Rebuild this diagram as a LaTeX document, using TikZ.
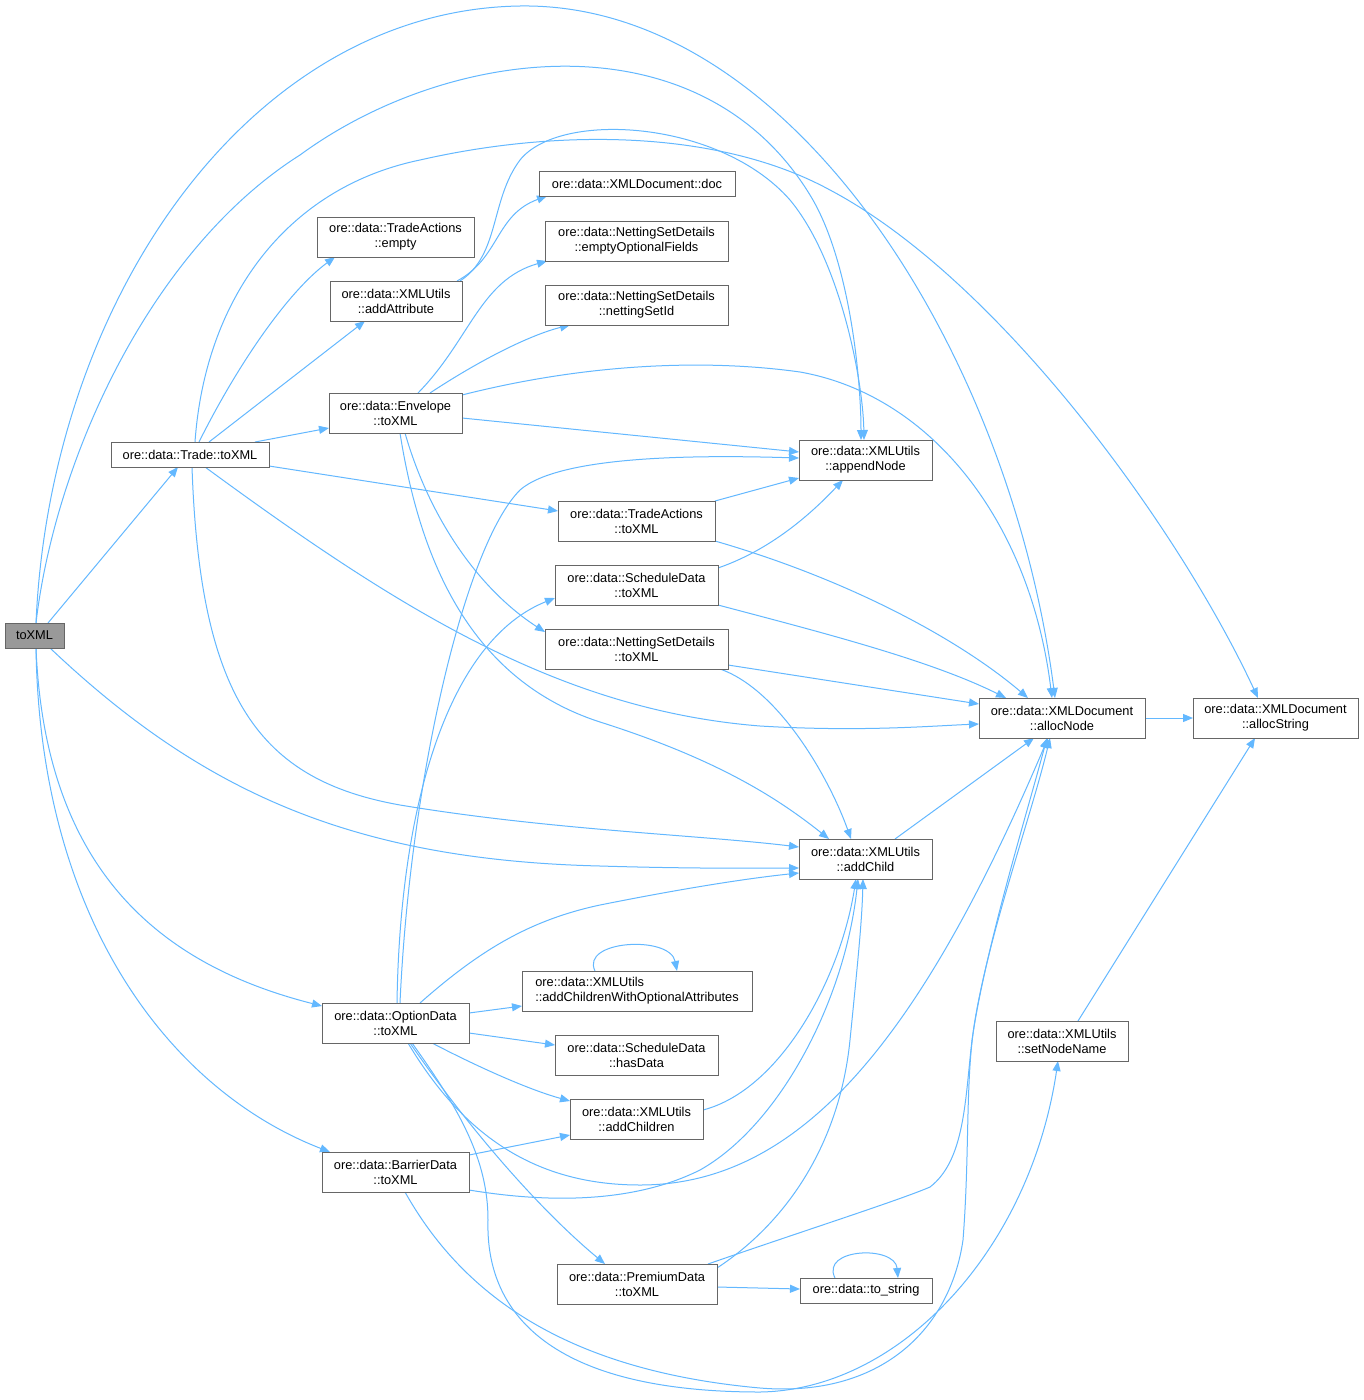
\documentclass[tikz,border=0pt]{standalone}
\usepackage{fontspec}
\setmainfont{Liberation Sans}
\usetikzlibrary{arrows.meta,backgrounds}
\definecolor{edgeblue}{HTML}{63B8FF}
\definecolor{nodeborder}{HTML}{666666}
\definecolor{mainfill}{HTML}{999999}
\tikzset{
  box/.style={draw=nodeborder, fill=white, line width=1pt, inner sep=0pt, outer sep=0pt,
    align=center, font=\fontsize{12.8}{15}\selectfont, text=black},
  mainbox/.style={box, fill=mainfill},
  edge/.style={draw=edgeblue, line width=1pt, -{Triangle[length=10pt,width=8pt]}}
}
\begin{document}
\begin{tikzpicture}[x=1pt,y=-1pt]
\useasboundingbox (0,0) rectangle (1364,1400);
% nodes
\node[mainbox, minimum width=59pt, minimum height=25pt] (main) at (34.5,635.5) {toXML};
\node[box, minimum width=158pt, minimum height=25pt] (trade) at (190,454.5) {ore::data::Trade::toXML};
\node[box, minimum width=157pt, minimum height=40pt] (taempty) at (395.5,237) {ore::data::TradeActions\\::empty};
\node[box, minimum width=132pt, minimum height=40pt] (addattr) at (396,301) {ore::data::XMLUtils\\::addAttribute};
\node[box, minimum width=133pt, minimum height=40pt] (envelope) at (395.5,413) {ore::data::Envelope\\::toXML};
\node[box, minimum width=196pt, minimum height=25pt] (doc) at (637,183.5) {ore::data::XMLDocument::doc};
\node[box, minimum width=183pt, minimum height=40pt] (emptyopt) at (636.5,241) {ore::data::NettingSetDetails\\::emptyOptionalFields};
\node[box, minimum width=183pt, minimum height=40pt] (nsid) at (636.5,305) {ore::data::NettingSetDetails\\::nettingSetId};
\node[box, minimum width=133pt, minimum height=40pt] (appendnode) at (865.5,460) {ore::data::XMLUtils\\::appendNode};
\node[box, minimum width=157pt, minimum height=40pt] (tatoxml) at (636.5,521) {ore::data::TradeActions\\::toXML};
\node[box, minimum width=163pt, minimum height=40pt] (sdtoxml) at (636.5,585) {ore::data::ScheduleData\\::toXML};
\node[box, minimum width=183pt, minimum height=40pt] (nstoxml) at (636.5,649) {ore::data::NettingSetDetails\\::toXML};
\node[box, minimum width=166pt, minimum height=40pt] (allocnode) at (1062,718) {ore::data::XMLDocument\\::allocNode};
\node[box, minimum width=165pt, minimum height=40pt] (allocstring) at (1275.5,718) {ore::data::XMLDocument\\::allocString};
\node[box, minimum width=133pt, minimum height=40pt] (addchild) at (865.5,859) {ore::data::XMLUtils\\::addChild};
\node[box, minimum width=230pt, minimum height=40pt, align=left] (acwoa) at (637,991) {ore::data::XMLUtils\\::addChildrenWithOptionalAttributes};
\node[box, minimum width=147pt, minimum height=40pt] (optiondata) at (395.5,1023) {ore::data::OptionData\\::toXML};
\node[box, minimum width=163pt, minimum height=40pt] (hasdata) at (636.5,1055) {ore::data::ScheduleData\\::hasData};
\node[box, minimum width=133pt, minimum height=40pt] (addchildren) at (636.5,1119) {ore::data::XMLUtils\\::addChildren};
\node[box, minimum width=147pt, minimum height=40pt] (barrier) at (395.5,1172) {ore::data::BarrierData\\::toXML};
\node[box, minimum width=132pt, minimum height=40pt] (setnodename) at (1062,1041) {ore::data::XMLUtils\\::setNodeName};
\node[box, minimum width=160pt, minimum height=40pt] (premium) at (637,1284) {ore::data::PremiumData\\::toXML};
\node[box, minimum width=132pt, minimum height=25pt] (tostring) at (866,1290.5) {ore::data::to\_string};

\begin{pgfonlayer}{background}
\fill[white] (0,0) rectangle (1364,1400);
% main
\draw[edge] ([shift={(43,0)}]main.north west) -- ([shift={(67,25)}]trade.north west);
\draw[edge] ([shift={(31,0)}]main.north west) .. controls (55,460) and (150,250) .. (300,155)
  .. controls (450,45) and (700,15) .. (810,195) .. controls (850,260) and (861,380) .. ([shift={(62,0)}]appendnode.north west);
\draw[edge] ([shift={(31,0)}]main.north west) .. controls (50,300) and (250,10) .. (520,6)
  .. controls (790,2) and (1010,350) .. ([shift={(76,0)}]allocnode.north west);
\draw[edge] ([shift={(45,25)}]main.north west) .. controls (200,790) and (350,860) .. (600,866)
  .. controls (700,869) and (760,868) .. ([shift={(0,29)}]addchild.north west);
\draw[edge] ([shift={(31,25)}]main.north west) .. controls (45,870) and (160,965) .. ([shift={(0,3)}]optiondata.north west);
\draw[edge] ([shift={(31,25)}]main.north west) .. controls (40,920) and (170,1090) .. ([shift={(8,0)}]barrier.north west);
% trade
\draw[edge] ([shift={(88,0)}]trade.north west) .. controls (240,360) and (290,290) .. ([shift={(18,40)}]taempty.north west);
\draw[edge] ([shift={(98,0)}]trade.north west) -- ([shift={(35,40)}]addattr.north west);
\draw[edge] ([shift={(144,0)}]trade.north west) -- ([shift={(0,35)}]envelope.north west);
\draw[edge] ([shift={(158,24)}]trade.north west) -- ([shift={(0,10)}]tatoxml.north west);
\draw[edge] ([shift={(84,0)}]trade.north west) .. controls (205,300) and (285,188) .. (420,160)
  .. controls (560,128) and (720,130) .. (830,190) .. controls (1000,280) and (1180,530) .. ([shift={(65,0)}]allocstring.north west);
\draw[edge] ([shift={(94,25)}]trade.north west) .. controls (400,610) and (560,710) .. (760,726)
  .. controls (860,732) and (930,726) .. ([shift={(0,26)}]allocnode.north west);
\draw[edge] ([shift={(81,25)}]trade.north west) .. controls (200,700) and (260,780) .. (400,805)
  .. controls (550,830) and (700,835) .. ([shift={(0,8)}]addchild.north west);
% addAttribute
\draw[edge] ([shift={(127,0)}]addattr.north west) .. controls (500,258) and (495,215) .. ([shift={(8,25)}]doc.north west);
\draw[edge] ([shift={(130,0)}]addattr.north west) .. controls (500,255) and (490,200) .. (520,160)
  .. controls (560,110) and (720,120) .. (790,200) .. controls (840,260) and (863,380) .. ([shift={(65,0)}]appendnode.north west);
% envelope
\draw[edge] ([shift={(89,0)}]envelope.north west) .. controls (470,340) and (480,280) .. ([shift={(2,40)}]emptyopt.north west);
\draw[edge] ([shift={(101,0)}]envelope.north west) .. controls (480,360) and (530,335) .. ([shift={(25,40)}]nsid.north west);
\draw[edge] ([shift={(133,2)}]envelope.north west) .. controls (580,365) and (700,358) .. (800,372)
  .. controls (930,395) and (1030,520) .. ([shift={(73,0)}]allocnode.north west);
\draw[edge] ([shift={(133,25)}]envelope.north west) -- ([shift={(0,12)}]appendnode.north west);
\draw[edge] ([shift={(76,40)}]envelope.north west) .. controls (430,520) and (480,590) .. ([shift={(0,3)}]nstoxml.north west);
\draw[edge] ([shift={(71,40)}]envelope.north west) .. controls (420,560) and (470,680) .. (600,722)
  .. controls (720,760) and (780,800) .. ([shift={(30,0)}]addchild.north west);
% trade actions / schedule / netting
\draw[edge] ([shift={(157,0)}]tatoxml.north west) -- ([shift={(0,38)}]appendnode.north west);
\draw[edge] ([shift={(157,40)}]tatoxml.north west) .. controls (850,580) and (960,640) .. ([shift={(49,0)}]allocnode.north west);
\draw[edge] ([shift={(163,40)}]sdtoxml.north west) .. controls (820,632) and (930,660) .. ([shift={(27,0)}]allocnode.north west);
\draw[edge] ([shift={(163,3)}]sdtoxml.north west) .. controls (770,550) and (810,515) .. ([shift={(44,40)}]appendnode.north west);
\draw[edge] ([shift={(183,36)}]nstoxml.north west) -- ([shift={(0,6)}]allocnode.north west);
\draw[edge] ([shift={(175,40)}]nstoxml.north west) .. controls (780,690) and (830,780) .. ([shift={(52,0)}]addchild.north west);
\draw[edge] ([shift={(166,20)}]allocnode.north west) -- ([shift={(0,20)}]allocstring.north west);
\draw[edge] ([shift={(96,0)}]addchild.north west) -- ([shift={(55,40)}]allocnode.north west);
% option data
\draw[edge] ([shift={(75,0)}]optiondata.north west) .. controls (400,800) and (450,640) .. ([shift={(0,33)}]sdtoxml.north west);
\draw[edge] ([shift={(78,0)}]optiondata.north west) .. controls (410,780) and (465,545) .. (520,490)
  .. controls (560,455) and (700,455) .. ([shift={(0,18)}]appendnode.north west);
\draw[edge] ([shift={(98,0)}]optiondata.north west) .. controls (480,950) and (530,920) .. (600,905)
  .. controls (700,885) and (760,877) .. ([shift={(0,34)}]addchild.north west);
\draw[edge] ([shift={(147,10)}]optiondata.north west) -- ([shift={(0,35)}]acwoa.north west);
\draw[edge] ([shift={(147,30)}]optiondata.north west) -- ([shift={(0,10)}]hasdata.north west);
\draw[edge] ([shift={(110,40)}]optiondata.north west) .. controls (480,1068) and (530,1090) .. ([shift={(0,2)}]addchildren.north west);
\draw[edge] ([shift={(88,40)}]optiondata.north west) .. controls (470,1130) and (540,1210) .. ([shift={(48,0)}]premium.north west);
\draw[edge] ([shift={(86,40)}]optiondata.north west) .. controls (460,1130) and (530,1185) .. (640,1185)
  .. controls (800,1185) and (920,1040) .. ([shift={(69,40)}]allocnode.north west);
\draw[edge] ([shift={(90,40)}]optiondata.north west) .. controls (460,1110) and (488,1160) .. (488,1220)
  .. controls (485,1320) and (560,1392) .. (760,1392) .. controls (900,1390) and (1030,1250) .. ([shift={(62,40)}]setnodename.north west);
% barrier
\draw[edge] ([shift={(83,40)}]barrier.north west) .. controls (460,1290) and (560,1370) .. (760,1388)
  .. controls (880,1398) and (950,1330) .. (963,1240) .. controls (970,1150) and (965,1080) .. (975,1020)
  .. controls (990,930) and (1030,820) .. ([shift={(71,40)}]allocnode.north west);
\draw[edge] ([shift={(147,3)}]barrier.north west) -- ([shift={(0,36)}]addchildren.north west);
\draw[edge] ([shift={(147,38)}]barrier.north west) .. controls (560,1205) and (640,1200) .. (700,1170)
  .. controls (780,1125) and (845,1000) .. ([shift={(59,40)}]addchild.north west);
% premium
\draw[edge] ([shift={(160,23)}]premium.north west) -- ([shift={(0,11)}]tostring.north west);
\draw[edge] ([shift={(151,0)}]premium.north west) .. controls (800,1232) and (900,1200) .. (930,1187)
  .. controls (965,1160) and (965,1100) .. (972,1040) .. controls (985,950) and (1025,820) .. ([shift={(68,40)}]allocnode.north west);
\draw[edge] ([shift={(160,4)}]premium.north west) .. controls (790,1220) and (840,1140) .. (850,1040)
  .. controls (858,960) and (862,920) .. ([shift={(64,40)}]addchild.north west);
% others
\draw[edge] ([shift={(133,11)}]addchildren.north west) .. controls (780,1090) and (840,980) .. ([shift={(57,40)}]addchild.north west);
\draw[edge] ([shift={(82,0)}]setnodename.north west) -- ([shift={(62,40)}]allocstring.north west);
\draw[edge] ([shift={(73,0)}]acwoa.north west) .. controls (580,940) and (670,935) .. ([shift={(155,0)}]acwoa.north west);
\draw[edge] ([shift={(35,0)}]tostring.north west) .. controls (820,1248) and (895,1245) .. ([shift={(98,0)}]tostring.north west);
\end{pgfonlayer}
\end{tikzpicture}
\end{document}
